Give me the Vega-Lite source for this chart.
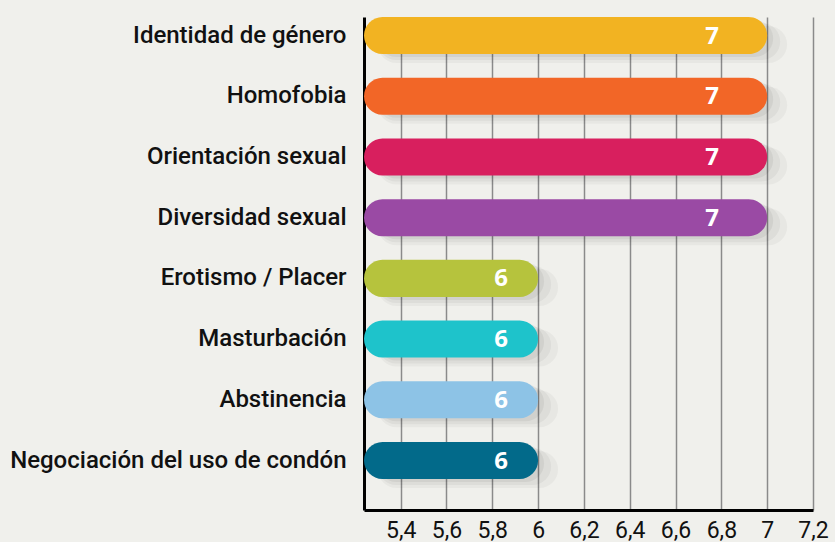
{
  "$schema": "https://vega.github.io/schema/vega-lite/v6.json",
  "autosize": "none",
  "width": 449,
  "height": 493,
  "padding": {"left": 364, "top": 17, "right": 22, "bottom": 32},
  "background": "#F0F0EC",
  "config": {"view": {"stroke": null}},
  "data": {
    "values": [
      {"tema": "Identidad de género", "valor": 7},
      {"tema": "Homofobia", "valor": 7},
      {"tema": "Orientación sexual", "valor": 7},
      {"tema": "Diversidad sexual", "valor": 7},
      {"tema": "Erotismo / Placer", "valor": 6},
      {"tema": "Masturbación", "valor": 6},
      {"tema": "Abstinencia", "valor": 6},
      {"tema": "Negociación del uso de condón", "valor": 6}
    ]
  },
  "layer": [
    {
      "mark": {"type": "bar", "fill": "#000000", "opacity": 0.035, "xOffset": 20, "yOffset": 9, "cornerRadiusEnd": 21},
      "encoding": {
        "y": {"field": "tema", "type": "nominal", "sort": null},
        "x": {"field": "valor", "type": "quantitative"},
        "x2": {"datum": 5.3}
      }
    },
    {
      "mark": {"type": "bar", "fill": "#000000", "opacity": 0.045, "xOffset": 13, "yOffset": 6, "cornerRadiusEnd": 20},
      "encoding": {
        "y": {"field": "tema", "type": "nominal", "sort": null},
        "x": {"field": "valor", "type": "quantitative"},
        "x2": {"datum": 5.3}
      }
    },
    {
      "mark": {"type": "bar", "fill": "#000000", "opacity": 0.05, "xOffset": 6, "yOffset": 3, "cornerRadiusEnd": 19},
      "encoding": {
        "y": {"field": "tema", "type": "nominal", "sort": null},
        "x": {"field": "valor", "type": "quantitative"},
        "x2": {"datum": 5.3}
      }
    },
    {
      "mark": {"type": "bar", "cornerRadiusEnd": 19},
      "encoding": {
        "y": {
          "field": "tema",
          "type": "nominal",
          "sort": null,
          "title": null,
          "scale": {"paddingInner": 0.39, "paddingOuter": 0.255, "align": 0},
          "axis": {
            "domain": true,
            "domainColor": "#000000",
            "domainWidth": 3,
            "ticks": false,
            "labelPadding": 18,
            "labelFont": "Roboto",
            "labelFontWeight": 500,
            "labelFontSize": 24,
            "labelColor": "#111111",
            "labelLimit": 400
          }
        },
        "x": {
          "field": "valor",
          "type": "quantitative",
          "title": null,
          "scale": {"domain": [5.24, 7.2], "nice": false, "zero": false},
          "axis": {
            "values": [5.4, 5.6, 5.8, 6, 6.2, 6.4, 6.6, 6.8, 7, 7.2],
            "labelExpr": "replace(format(datum.value, '~g'), '.', ',')",
            "grid": true,
            "gridColor": "#8a8a8a",
            "gridWidth": 1.5,
            "domain": true,
            "domainColor": "#000000",
            "domainWidth": 3,
            "ticks": false,
            "labelPadding": 9,
            "labelFont": "Roboto",
            "labelFontSize": 23,
            "labelColor": "#111111",
            "labelFlush": false,
            "labelOverlap": false
          }
        },
        "x2": {"datum": 5.24},
        "color": {
          "field": "tema",
          "type": "nominal",
          "legend": null,
          "scale": {
            "domain": ["Identidad de género", "Homofobia", "Orientación sexual", "Diversidad sexual", "Erotismo / Placer", "Masturbación", "Abstinencia", "Negociación del uso de condón"],
            "range": ["#F2B322", "#F26627", "#D81F5E", "#9A4AA4", "#B6C33D", "#1EC3CB", "#8DC3E6", "#026A8A"]
          }
        }
      }
    },
    {
      "transform": [{"filter": "datum.valor == 7"}],
      "mark": {"type": "text", "dx": -55, "dy": 1, "font": "Open Sans", "fontWeight": "bold", "fontSize": 24, "color": "#ffffff", "baseline": "middle", "align": "center"},
      "encoding": {
        "y": {"field": "tema", "type": "nominal", "sort": null},
        "x": {"field": "valor", "type": "quantitative"},
        "text": {"field": "valor", "type": "quantitative"}
      }
    },
    {
      "transform": [{"filter": "datum.valor == 6"}],
      "mark": {"type": "text", "dx": -37, "dy": 1, "font": "Open Sans", "fontWeight": "bold", "fontSize": 24, "color": "#ffffff", "baseline": "middle", "align": "center"},
      "encoding": {
        "y": {"field": "tema", "type": "nominal", "sort": null},
        "x": {"field": "valor", "type": "quantitative"},
        "text": {"field": "valor", "type": "quantitative"}
      }
    }
  ]
}
